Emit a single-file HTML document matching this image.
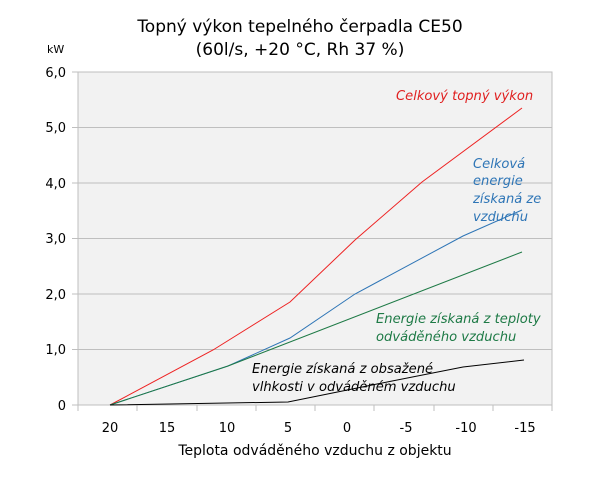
<!DOCTYPE html>
<html><head><meta charset="utf-8"><style>
body{margin:0;background:#fff;}
svg text{font-family:"DejaVu Sans","Liberation Sans",sans-serif;}
</style></head><body>
<svg width="600" height="473" viewBox="0 0 600 473" xmlns="http://www.w3.org/2000/svg">
<text x="300" y="32" text-anchor="middle" font-size="17" fill="#000">Topný výkon tepelného čerpadla CE50</text>
<text x="300" y="55" text-anchor="middle" font-size="17" fill="#000">(60l/s, +20 °C, Rh 37 %)</text>
<rect x="78" y="72" width="474" height="333" fill="#f2f2f2" stroke="#bfbfbf"/>
<g stroke="#bfbfbf" stroke-width="1">
<line x1="72" y1="127.5" x2="552" y2="127.5"/>
<line x1="72" y1="183" x2="552" y2="183"/>
<line x1="72" y1="238.5" x2="552" y2="238.5"/>
<line x1="72" y1="294" x2="552" y2="294"/>
<line x1="72" y1="349.5" x2="552" y2="349.5"/>
<line x1="72" y1="72" x2="78" y2="72"/>
<line x1="72" y1="405" x2="78" y2="405"/>
<line x1="78" y1="405" x2="78" y2="411"/><line x1="137" y1="405" x2="137" y2="411"/><line x1="197" y1="405" x2="197" y2="411"/><line x1="256" y1="405" x2="256" y2="411"/><line x1="315" y1="405" x2="315" y2="411"/><line x1="374" y1="405" x2="374" y2="411"/><line x1="434" y1="405" x2="434" y2="411"/><line x1="493" y1="405" x2="493" y2="411"/><line x1="552" y1="405" x2="552" y2="411"/>
</g>
<g font-size="13" fill="#000" text-anchor="end">
<text x="66" y="77">6,0</text>
<text x="66" y="132">5,0</text>
<text x="66" y="188">4,0</text>
<text x="66" y="243">3,0</text>
<text x="66" y="299">2,0</text>
<text x="66" y="354">1,0</text>
<text x="66" y="410">0</text>
</g>
<text x="47" y="53" font-size="11">kW</text>
<g font-size="13" text-anchor="middle">
<text x="110" y="432">20</text>
<text x="167" y="432">15</text>
<text x="227" y="432">10</text>
<text x="288" y="432">5</text>
<text x="347" y="432">0</text>
<text x="406" y="432">-5</text>
<text x="466" y="432">-10</text>
<text x="525" y="432">-15</text>
</g>
<text x="315" y="455" text-anchor="middle" font-size="14">Teplota odváděného vzduchu z objektu</text>
<g fill="none" stroke-width="1">
<polyline stroke="#ee2222" points="110,405 213,350 290,302 355,240 422,182 522,108"/>
<polyline stroke="#2e75b6" points="110,405 228,366 290,338 355,294 463,236 522,210"/>
<polyline stroke="#1e7a46" points="110,405 228,366 522,252"/>
<polyline stroke="#000" points="110,405 288,402 377,384 463,367 524,360"/>
</g>
<g font-style="italic" font-size="13.1">
<text x="396" y="100" fill="#e02020">Celkový topný výkon</text>
<text x="473" y="168" fill="#2e75b6">Celková</text>
<text x="473" y="185" fill="#2e75b6">energie</text>
<text x="473" y="203" fill="#2e75b6">získaná ze</text>
<text x="473" y="221" fill="#2e75b6">vzduchu</text>
<text x="376" y="323" fill="#1e7a46">Energie získaná z teploty</text>
<text x="376" y="341" fill="#1e7a46">odváděného vzduchu</text>
<text x="252" y="373" fill="#000">Energie získaná z obsažené</text>
<text x="252" y="391" fill="#000">vlhkosti v odváděném vzduchu</text>
</g>
</svg>
</body></html>
